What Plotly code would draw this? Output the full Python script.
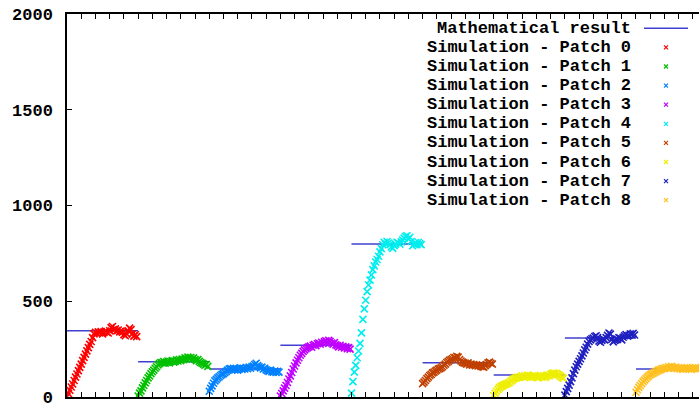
import plotly.graph_objects as go

# Sample times within one patch window (simulation steps)
patch_times = list(range(0, 100, 2))
patch_length = 100

# Analytical steady-state value per patch
math_result = [346, 184, 146, 270, 799, 179, 115, 308, 146]

# Simulated population per patch, sampled every 2 steps
sim_patch0 = [2, 18, 35, 52, 68, 86, 104, 120, 138, 155, 172, 190, 207, 224, 241, 258, 275, 290, 310, 330,
              338, 332, 340, 335, 342, 330, 337, 344, 338, 334, 346, 362, 368, 352, 356, 345, 350, 340, 344, 338,
              326, 320, 330, 345, 360, 352, 330, 318, 325, 315]
sim_patch1 = [5, 20, 32, 48, 60, 74, 86, 100, 110, 122, 132, 140, 150, 158, 168, 175, 180, 178, 185, 176,
              182, 188, 178, 185, 190, 182, 186, 194, 188, 196, 190, 198, 195, 204, 200, 208, 202, 206, 198, 204,
              196, 190, 195, 186, 180, 176, 172, 166, 170, 160]
sim_patch2 = [30, 45, 58, 72, 84, 92, 100, 106, 112, 118, 122, 128, 134, 140, 146, 148, 144, 150, 142, 148,
              140, 146, 152, 144, 150, 146, 154, 148, 156, 150, 158, 162, 170, 176, 164, 158, 152, 156, 146, 150,
              142, 138, 134, 140, 132, 130, 136, 128, 134, 130]
sim_patch3 = [5, 18, 32, 46, 60, 76, 94, 110, 128, 146, 162, 178, 192, 205, 218, 228, 238, 246, 252, 258,
              262, 266, 260, 270, 274, 268, 278, 282, 276, 286, 280, 290, 294, 288, 296, 290, 282, 276, 284, 272,
              268, 262, 270, 260, 264, 256, 262, 252, 258, 250]
sim_patch4 = [20, 80, 130, 165, 205, 240, 280, 335, 405, 460, 505, 550, 585, 610, 638, 665, 685, 705, 718, 735,
              758, 775, 795, 808, 800, 812, 804, 796, 784, 776, 790, 798, 808, 804, 798, 810, 820, 830, 838, 842,
              826, 834, 812, 790, 798, 806, 796, 808, 800, 796]
sim_patch5 = [70, 78, 86, 96, 104, 112, 118, 126, 130, 136, 140, 146, 148, 152, 158, 166, 172, 180, 186, 192,
              196, 200, 206, 204, 212, 208, 196, 188, 182, 178, 176, 172, 178, 168, 172, 166, 170, 164, 168, 162,
              166, 160, 158, 156, 164, 170, 178, 182, 176, 172]
sim_patch6 = [8, 20, 30, 40, 48, 54, 58, 62, 66, 68, 72, 76, 82, 88, 94, 98, 100, 104, 102, 106,
              110, 104, 112, 106, 114, 108, 102, 110, 104, 112, 106, 100, 108, 112, 104, 110, 102, 108, 114, 110,
              118, 122, 126, 120, 124, 118, 114, 108, 102, 98]
sim_patch7 = [10, 28, 45, 62, 80, 100, 122, 140, 158, 172, 186, 200, 215, 230, 246, 260, 276, 290, 298, 304,
              308, 316, 320, 310, 292, 286, 296, 302, 298, 310, 322, 334, 328, 300, 288, 296, 304, 300, 310, 306,
              298, 312, 320, 326, 318, 322, 330, 326, 332, 324]
sim_patch8 = [25, 38, 50, 60, 70, 80, 88, 96, 104, 110, 116, 120, 124, 128, 132, 136, 140, 142, 146, 150,
              148, 154, 150, 158, 152, 160, 154, 150, 156, 148, 152, 146, 150, 144, 152, 148, 154, 146, 150, 144,
              152, 148, 154, 146, 150, 148, 152, 146, 150, 148]

sim_series = [sim_patch0, sim_patch1, sim_patch2, sim_patch3, sim_patch4,
              sim_patch5, sim_patch6, sim_patch7, sim_patch8]
series_names = ["Simulation - Patch %d" % i for i in range(len(sim_series))]
math_name = "Mathematical result"

patch_colors = ["#ff0000", "#00c000", "#0080ff", "#c000ff", "#00eeee",
                "#c04000", "#eeee00", "#2020c0", "#ffc020"]
math_color = "#4040d0"

FONT = dict(family="Liberation Mono, DejaVu Sans Mono, monospace", size=17, color="black", weight="bold")

W, H = 699, 405
M_L, M_R, M_T, M_B = 67, 0, 14, 8

fig = go.Figure()

# Horizontal analytical level spanning each patch window
mx, my = [], []
for k, v in enumerate(math_result):
    mx += [k * patch_length, (k + 1) * patch_length, None]
    my += [v, v, None]
fig.add_trace(go.Scatter(x=mx, y=my, mode="lines", name=math_name,
                         line=dict(color=math_color, width=1.6), showlegend=False))

for k, vals in enumerate(sim_series):
    fig.add_trace(go.Scatter(
        x=[k * patch_length + t for t in patch_times], y=vals, mode="markers",
        name=series_names[k], showlegend=False,
        marker=dict(symbol="x-thin", size=7, color=patch_colors[k],
                    line=dict(width=1.6, color=patch_colors[k]))))

# Key in the upper right: right-aligned labels with the sample to their right
plot_w = W - M_L - M_R
plot_h = H - M_T - M_B


def px_to_paper(px, py):
    return (px - M_L) / plot_w, (H - M_B - py) / plot_h


row0, row_step = 28.3, 19.1
text_right = 633
sample_cx = 666
annotations, shapes = [], []
labels = [math_name] + series_names
for i, label in enumerate(labels):
    py = row0 + row_step * i
    ax_, ay_ = px_to_paper(text_right, py)
    annotations.append(dict(text=label, x=ax_, y=ay_, xref="paper", yref="paper",
                            xanchor="right", yanchor="middle", showarrow=False, font=FONT))
    if i == 0:
        x0, y0 = px_to_paper(644, py)
        x1, _ = px_to_paper(688, py)
        shapes.append(dict(type="line", xref="paper", yref="paper", x0=x0, x1=x1, y0=y0, y1=y0,
                           line=dict(color=math_color, width=1.6)))
    else:
        c = patch_colors[i - 1]
        a0, b0 = px_to_paper(sample_cx - 2, py - 2)
        a1, b1 = px_to_paper(sample_cx + 2, py + 2)
        path = "M %f,%f L %f,%f M %f,%f L %f,%f" % (a0, b0, a1, b1, a0, b1, a1, b0)
        shapes.append(dict(type="path", xref="paper", yref="paper", path=path,
                           line=dict(color=c, width=1.2)))

fig.update_layout(
    width=W, height=H,
    margin=dict(l=M_L, r=M_R, t=M_T, b=M_B, autoexpand=False),
    paper_bgcolor="white", plot_bgcolor="white",
    annotations=annotations, shapes=shapes,
    xaxis=dict(range=[0, 888.6], tick0=0, dtick=20, ticks="inside", ticklen=5, tickwidth=1.2,
               tickcolor="black", showline=True, linecolor="black", linewidth=1.5, mirror="ticks",
               showgrid=False, zeroline=False, showticklabels=False, automargin=False),
    yaxis=dict(range=[0, 2000], tick0=0, dtick=500, ticks="inside", ticklen=5, tickwidth=1.2,
               tickcolor="black", showline=True, linecolor="black", linewidth=1.5, mirror=False,
               showgrid=False, zeroline=False, tickfont=FONT, ticklabelstandoff=9,
               ticklabeloverflow="allow", automargin=False),
)

fig.write_html("out.html")
